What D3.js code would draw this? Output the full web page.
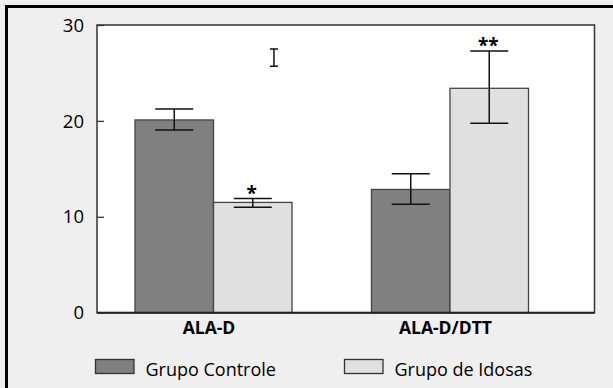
<!DOCTYPE html>
<html>
<head>
<meta charset="utf-8">
<script src="https://cdn.jsdelivr.net/npm/d3@7"></script>
<style>
  html, body { margin: 0; padding: 0; background: #efefef; }
  svg { display: block; }
  text { font-family: "Open Sans", "Noto Sans", sans-serif; fill: #000; }
</style>
</head>
<body>
<svg id="chart" width="613" height="388"></svg>
<script>
// ---- data ----
const categories = ["ALA-D", "ALA-D/DTT"];
const series = ["Grupo Controle", "Grupo de Idosas"];
const controleValues = [20.1, 12.85];
const controleErrLow = [19.05, 11.3];
const controleErrHigh = [21.25, 14.5];
const idosasValues = [11.5, 23.4];
const idosasErrLow = [11.0, 19.75];
const idosasErrHigh = [11.9, 27.3];
const significance = ["*", "**"];   // marks above Grupo de Idosas bars
const strayMark = [25.7, 27.5];     // stray error-bar glyph in the ALA-D group
const yTicks = [0, 10, 20, 30];
const colors = ["#808080", "#e0e0e0"];

// ---- layout ----
const svg = d3.select("#chart");
const W = 613, H = 388;
const plot = { left: 97, right: 594.5, top: 25, bottom: 312.7 };

// outer frame
svg.append("rect").attr("x", 0).attr("y", 0).attr("width", W).attr("height", H).attr("fill", "#efefef");
svg.append("rect").attr("x", 6.5).attr("y", 6.5).attr("width", W + 20).attr("height", H + 20)
  .attr("fill", "#efefef").attr("stroke", "#000").attr("stroke-width", 3);

// plot background
svg.append("rect").attr("x", plot.left).attr("y", plot.top)
  .attr("width", plot.right - plot.left).attr("height", plot.bottom - plot.top)
  .attr("fill", "#ffffff");

const y = d3.scaleLinear().domain([0, 30]).range([plot.bottom, plot.top]);
const x0 = d3.scaleBand().domain(categories).range([135, 528.5]).paddingInner(0.336).paddingOuter(0);
const x1 = d3.scaleBand().domain(series).range([0, x0.bandwidth()]).padding(0);

const rows = categories.map((c, i) => [
  { cat: c, s: series[0], v: controleValues[i], lo: controleErrLow[i], hi: controleErrHigh[i], color: colors[0] },
  { cat: c, s: series[1], v: idosasValues[i], lo: idosasErrLow[i], hi: idosasErrHigh[i], color: colors[1], sig: significance[i] }
]).flat();

// bars
svg.append("g").selectAll("rect").data(rows).join("rect")
  .attr("x", d => x0(d.cat) + x1(d.s))
  .attr("y", d => y(d.v))
  .attr("width", x1.bandwidth())
  .attr("height", d => y(0) - y(d.v))
  .attr("fill", d => d.color)
  .attr("stroke", "#444")
  .attr("stroke-width", 1.3);

// error bars
const capW = 38;
const eg = svg.append("g").attr("stroke", "#111").attr("stroke-width", 1.5);
rows.forEach(d => {
  const cx = x0(d.cat) + x1(d.s) + x1.bandwidth() / 2;
  eg.append("line").attr("x1", cx).attr("x2", cx).attr("y1", y(d.lo)).attr("y2", y(d.hi));
  eg.append("line").attr("x1", cx - capW / 2).attr("x2", cx + capW / 2).attr("y1", y(d.lo)).attr("y2", y(d.lo));
  eg.append("line").attr("x1", cx - capW / 2).attr("x2", cx + capW / 2).attr("y1", y(d.hi)).attr("y2", y(d.hi));
  if (d.sig) {
    svg.append("text").attr("x", cx - 1).attr("y", y(d.hi) + 1.5)
      .attr("text-anchor", "middle").attr("font-size", 19).attr("font-weight", "bold").text(d.sig);
  }
});

// stray mark
{
  const cx = x0(categories[0]) + x1(series[1]) + x1.bandwidth() * 0.77;
  const sg = svg.append("g").attr("stroke", "#111").attr("stroke-width", 1.5);
  sg.append("line").attr("x1", cx).attr("x2", cx).attr("y1", y(strayMark[0])).attr("y2", y(strayMark[1]));
  sg.append("line").attr("x1", cx - 4).attr("x2", cx + 4).attr("y1", y(strayMark[0])).attr("y2", y(strayMark[0]));
  sg.append("line").attr("x1", cx - 4).attr("x2", cx + 4).attr("y1", y(strayMark[1])).attr("y2", y(strayMark[1]));
}

// plot border
svg.append("rect").attr("x", plot.left).attr("y", plot.top)
  .attr("width", plot.right - plot.left).attr("height", plot.bottom - plot.top)
  .attr("fill", "none").attr("stroke", "#333").attr("stroke-width", 1.5);
svg.append("line").attr("x1", plot.left).attr("x2", plot.right).attr("y1", plot.bottom).attr("y2", plot.bottom)
  .attr("stroke", "#222").attr("stroke-width", 2);

// y axis
const yAxis = d3.axisRight(y).tickValues(yTicks).tickSize(7).tickFormat("");
const ya = svg.append("g").attr("transform", `translate(${plot.left},0)`).call(yAxis);
ya.select(".domain").remove();
ya.selectAll("line").attr("stroke", "#333").attr("stroke-width", 1.3);
svg.append("g").selectAll("text").data(yTicks).join("text")
  .attr("x", 84).attr("y", d => y(d)).attr("dy", "0.36em")
  .attr("text-anchor", "end").attr("font-size", 18.5).text(d => d);

// x labels
svg.append("g").selectAll("text").data(categories).join("text")
  .attr("x", d => x0(d) + x0.bandwidth() / 2 - 4.5)
  .attr("y", 334)
  .attr("text-anchor", "middle").attr("font-size", 17.5).attr("font-weight", "bold")
  .text(d => d);

// legend
const legendX = [95.5, 344.5];
const lg = svg.append("g").selectAll("g").data(series).join("g")
  .attr("transform", (d, i) => `translate(${legendX[i]},359.5)`);
lg.append("rect").attr("width", 38.5).attr("height", 14).attr("fill", (d, i) => colors[i])
  .attr("stroke", "#333").attr("stroke-width", 1.3);
lg.append("text").attr("x", 50).attr("y", 16.5).attr("font-size", 18).text(d => d);
</script>
</body>
</html>
